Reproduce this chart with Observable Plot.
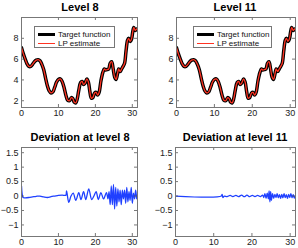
<!DOCTYPE html>
<html><head><meta charset="utf-8">
<script src="https://cdn.jsdelivr.net/npm/d3@7"></script>
<script src="https://cdn.jsdelivr.net/npm/@observablehq/plot@0.6"></script>
<style>
body{margin:0;background:#fff;font-family:"Liberation Sans",sans-serif}
#wrap{position:relative;width:298px;height:248px;overflow:hidden}
.panel{position:absolute}
.title{position:absolute;font-family:"Liberation Sans",sans-serif;font-weight:bold;font-size:11px;line-height:12px;text-align:center;white-space:nowrap;color:#000;transform:translateX(-50%)}
.legend{position:absolute;background:#fff;border:1px solid #777;box-sizing:border-box}
.legend .row{position:absolute;left:3px;height:9px;line-height:9px;white-space:nowrap;font-family:"Liberation Sans",sans-serif;font-size:8px;color:#111}
.legend .sw{display:inline-block;width:17px;height:0;vertical-align:middle;margin-right:3px}
</style></head>
<body><div id="wrap"></div>
<script>
// ---- data ----
const titles = ["Level 8", "Level 11", "Deviation at level 8", "Deviation at level 11"];
const legendLabels = ["Target function", "LP estimate"];
const xTicks = [0, 10, 20, 30];
const yTicksTop = [2, 4, 6, 8];
const yTicksBottom = [-1, -0.5, 0, 0.5, 1, 1.5];

const xTarget = [0,0.5,1,1.5,2,2.5,3,3.5,4,4.5,5,5.5,6,6.5,7,7.5,8,8.5,9,9.5,10,10.5,11,11.5,12,12.5,13,13.5,13.9,14.3,14.7,15.1,15.5,16,16.4,16.8,17.2,17.7,18.1,18.5,18.9,19.3,19.8,20.2,20.6,21,21.5,22,22.4,22.8,23.2,23.6,24,24.4,24.8,25.2,25.6,26,26.3,26.7,27.1,27.5,27.9,28.3,28.7,29,29.4,29.8,30.1,30.4,30.8,31.2,31.4];
const yTarget = [7.1,6.5,6.0,5.55,5.3,5.3,5.5,5.75,5.9,5.95,5.85,5.5,5.0,4.2,3.45,2.95,2.75,2.85,3.3,3.8,4.05,4.1,3.85,3.3,2.55,2.05,2.0,2.3,2.2,1.85,1.8,2.2,3.0,3.75,3.85,3.55,3.7,4.1,3.8,2.9,2.25,2.3,2.75,2.8,2.55,2.8,3.9,4.7,5.05,4.95,5.0,5.05,5.6,5.75,5.1,4.3,4.05,4.6,5.05,4.8,5.05,5.3,5.6,6.8,7.8,8.0,7.7,7.95,8.6,9.05,8.75,8.9,8.85];
// LP estimates are indistinguishable from the target at this resolution
const yEstimate8 = yTarget;
const yEstimate11 = yTarget;

const xDev8 = [0,0.2,0.4,1,2,3,4,5,6,7,8,9,10,11,12,12.2,12.8,13.4,14,14.7,15.5,16.1,16.8,17.4,18.2,19,19.6,20.2,20.8,21.5,22.2,23,23.4,23.7,24,24.3,24.6,24.9,25.2,25.5,25.8,26.1,26.4,26.7,27,27.3,27.6,27.9,28.2,28.5,28.8,29.1,29.4,29.7,30,30.3,30.6,30.9,31.2,31.4];
const yDev8 = [0.35,0.05,-0.05,-0.06,-0.05,-0.03,-0.01,0,-0.03,-0.05,-0.02,0,0.02,0.03,0.03,0.18,-0.22,0,0.1,-0.15,0.12,-0.12,0.15,-0.12,0.25,-0.12,0,0.15,-0.12,0.12,-0.1,0.12,-0.1,0.15,-0.3,0.35,-0.3,0.4,-0.45,0.3,-0.35,0.25,-0.2,0.2,-0.3,0.2,-0.1,0.2,-0.25,0.3,-0.2,0.15,-0.15,0.3,-0.25,0.1,-0.1,0.2,-0.1,0.05];

const xDev11 = [0,12,12.2,12.4,12.8,13.5,14.3,15,15.8,16.5,17.3,18,18.7,19.4,20.1,20.8,21.5,22.2,22.8,23.1,23.4,23.7,24,24.3,24.5,24.7,24.9,25.1,25.4,25.7,26,26.3,26.6,26.9,27.2,27.5,27.8,28.1,28.4,28.7,29,29.3,29.6,29.9,30.2,30.5,30.8,31.1,31.4];
const yDev11 = [0,0,0.06,-0.05,0,-0.02,0.02,-0.02,0.02,-0.02,0.03,-0.02,0.03,-0.02,0.02,-0.02,0.02,-0.02,0.03,-0.05,0.08,-0.08,0.1,-0.1,0.18,-0.2,0.15,-0.15,0.08,-0.08,0.06,-0.05,0.08,-0.06,0.05,-0.08,0.06,-0.06,0.08,-0.05,0.05,-0.08,0.06,-0.05,0.08,-0.06,0.05,-0.07,0.03];

// ---- rendering ----
const wrap = document.getElementById("wrap");
const font = '"Liberation Sans",sans-serif';
const fmt = d => String(d).replace("-", "\u2212");

function panel({left, top, width, height, mL, mR, mT, mB, yDomain, yTicks, lines}) {
  const innerW = width - mL - mR, innerH = height - mT - mB;
  const marks = [];
  for (const l of lines) {
    const data = l.x.map((x, i) => ({x, y: l.y[i]}));
    marks.push(Plot.line(data, {x: "x", y: "y", stroke: l.color, strokeWidth: l.width, curve: "catmull-rom", clip: true}));
  }
  marks.push(
    Plot.tickX(xTicks, {x: d => d, insetTop: innerH - 3, stroke: "#555", strokeWidth: 0.8}),
    Plot.tickX(xTicks, {x: d => d, insetBottom: innerH - 3, stroke: "#555", strokeWidth: 0.8}),
    Plot.tickY(yTicks, {y: d => d, insetRight: innerW - 3, stroke: "#555", strokeWidth: 0.8}),
    Plot.tickY(yTicks, {y: d => d, insetLeft: innerW - 3, stroke: "#555", strokeWidth: 0.8}),
    Plot.frame({stroke: "#777", strokeWidth: 1}),
    Plot.axisX(xTicks, {tickSize: 0, tickPadding: 2, fontSize: 9, fill: "#222", tickFormat: fmt}),
    Plot.axisY(yTicks, {tickSize: 0, tickPadding: 3, fontSize: 9, fill: "#222", tickFormat: fmt})
  );
  const svg = Plot.plot({
    width, height, marginLeft: mL, marginRight: mR, marginTop: mT, marginBottom: mB,
    style: {fontFamily: font, background: "transparent", overflow: "visible"},
    x: {domain: [0, 31.4], label: null, axis: null},
    y: {domain: yDomain, label: null, axis: null},
    marks
  });
  const div = document.createElement("div");
  div.className = "panel";
  div.style.left = left + "px"; div.style.top = top + "px";
  div.appendChild(svg);
  wrap.appendChild(div);
}

function title(text, cx, y) {
  const t = document.createElement("div");
  t.className = "title"; t.textContent = text;
  t.style.left = cx + "px"; t.style.top = y + "px";
  wrap.appendChild(t);
}

function legend(left, top, w, h) {
  const lg = document.createElement("div");
  lg.className = "legend";
  Object.assign(lg.style, {left: left + "px", top: top + "px", width: w + "px", height: h + "px"});
  const rows = [{c: "#000", t: 3.5}, {c: "#ff3322", t: 1.5}];
  rows.forEach((r, i) => {
    const row = document.createElement("div");
    row.className = "row"; row.style.top = (2.5 + i * 9.5) + "px";
    const sw = document.createElement("span");
    sw.className = "sw"; sw.style.borderTop = r.t + "px solid " + r.c;
    row.appendChild(sw);
    row.appendChild(document.createTextNode(legendLabels[i]));
    lg.appendChild(row);
  });
  wrap.appendChild(lg);
}

const red = "#ff3322", blue = "#1f40ff";

panel({left: 0, top: 15, width: 149, height: 109, mL: 21, mR: 12, mT: 2, mB: 17,
  yDomain: [1.35, 10], yTicks: yTicksTop,
  lines: [{x: xTarget, y: yTarget, color: "#000", width: 3.5}, {x: xTarget, y: yEstimate8, color: red, width: 1.3}]});
panel({left: 149, top: 15, width: 149, height: 109, mL: 27, mR: 3, mT: 2, mB: 17,
  yDomain: [1.35, 10], yTicks: yTicksTop,
  lines: [{x: xTarget, y: yTarget, color: "#000", width: 3.5}, {x: xTarget, y: yEstimate11, color: red, width: 1.3}]});
panel({left: 0, top: 145, width: 149, height: 103, mL: 21, mR: 12, mT: 2, mB: 12,
  yDomain: [-1.4, 1.68], yTicks: yTicksBottom,
  lines: [{x: xDev8, y: yDev8, color: blue, width: 1.3}]});
panel({left: 149, top: 145, width: 149, height: 103, mL: 26, mR: 3, mT: 2, mB: 12,
  yDomain: [-1.4, 1.68], yTicks: yTicksBottom,
  lines: [{x: xDev11, y: yDev11, color: blue, width: 1.3}]});

title(titles[0], 80, 1);
title(titles[1], 235, 1);
title(titles[2], 80, 131);
title(titles[3], 235, 131);

legend(34, 26, 81, 22);
legend(193, 26, 79, 22);
</script></body></html>
